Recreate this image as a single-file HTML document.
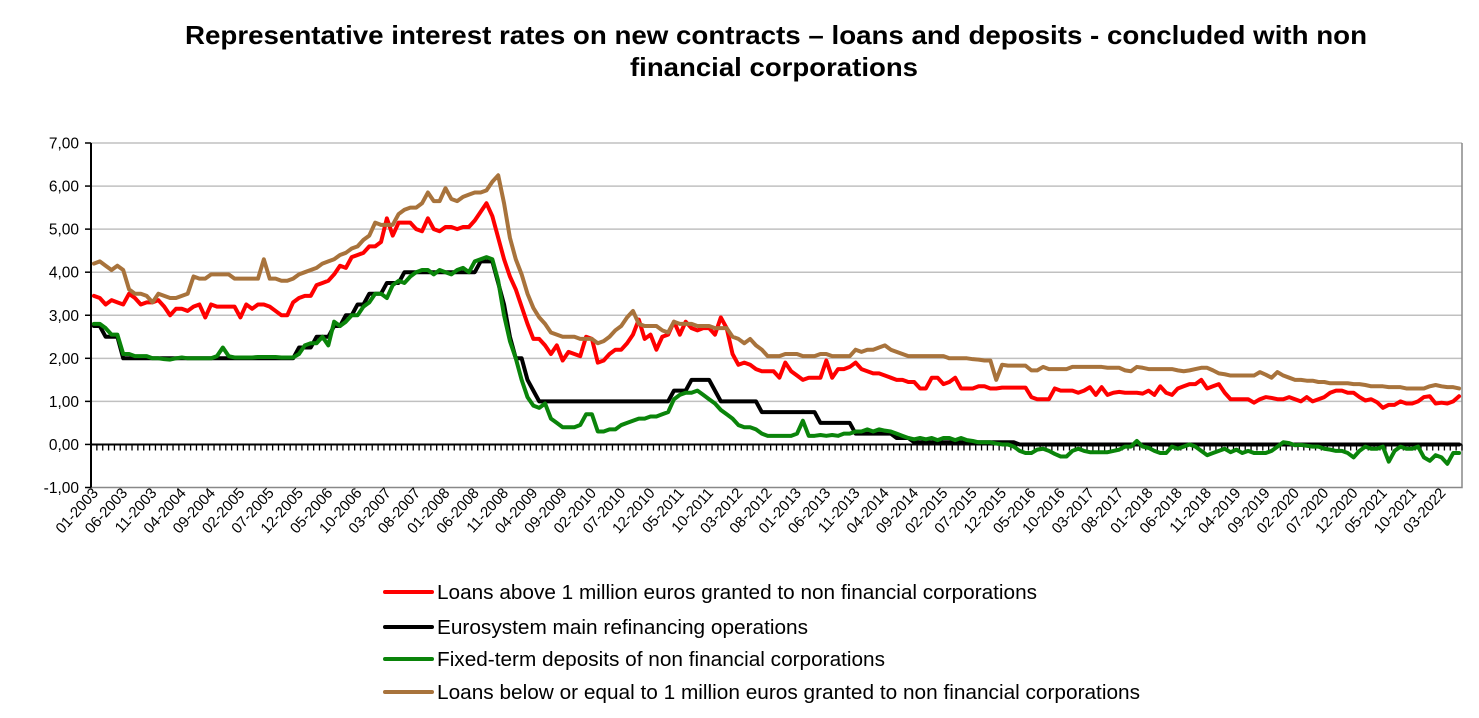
<!DOCTYPE html>
<html><head><meta charset="utf-8">
<style>
html,body{margin:0;padding:0;background:#fff;}
svg{display:block;font-family:"Liberation Sans",Arial,sans-serif;}
</style></head>
<body>
<svg id="chart" width="1479" height="718" viewBox="0 0 1479 718" xmlns="http://www.w3.org/2000/svg">
<rect x="0" y="0" width="1479" height="718" fill="#fff"/>
<text x="185" y="44" font-size="26" font-weight="bold" fill="#000" textLength="1182" lengthAdjust="spacingAndGlyphs">Representative interest rates on new contracts – loans and deposits - concluded with non</text>
<text x="630" y="76" font-size="26" font-weight="bold" fill="#000" textLength="288" lengthAdjust="spacingAndGlyphs">financial corporations</text>
<g id="grid"></g>
<g id="yaxis"></g>
<g id="xaxis"></g>
<g id="series"></g>
<g id="legend"></g>
</svg>
<script>
const yTicks = [-1,0,1,2,3,4,5,6,7];
const startYear = 2003;
const nMonths = 234;
const seriesNames = [
 "Loans above 1 million euros granted to non financial corporations",
 "Eurosystem main refinancing operations",
 "Fixed-term deposits of non financial corporations",
 "Loans below or equal to 1 million euros granted to non financial corporations"
];
const redValues = [
3.45,3.4,3.25,3.35,3.3,3.25,3.5,3.4,3.25,3.3,3.3,3.35,
3.2,3.0,3.15,3.15,3.1,3.2,3.25,2.95,3.25,3.2,3.2,3.2,
3.2,2.95,3.25,3.15,3.25,3.25,3.2,3.1,3.0,3.0,3.3,3.4,
3.45,3.45,3.7,3.75,3.8,3.95,4.15,4.1,4.35,4.4,4.45,4.6,
4.6,4.7,5.25,4.85,5.15,5.15,5.15,5.0,4.95,5.25,5.0,4.95,
5.05,5.05,5.0,5.05,5.05,5.2,5.4,5.6,5.3,4.8,4.3,3.9,
3.6,3.2,2.8,2.45,2.45,2.3,2.1,2.3,1.95,2.15,2.1,2.05,
2.5,2.45,1.9,1.95,2.1,2.2,2.2,2.35,2.55,2.9,2.45,2.55,
2.2,2.5,2.55,2.85,2.55,2.85,2.7,2.65,2.7,2.7,2.55,2.95,
2.7,2.1,1.85,1.9,1.85,1.75,1.7,1.7,1.7,1.55,1.9,1.7,
1.6,1.5,1.55,1.55,1.55,1.95,1.55,1.75,1.75,1.8,1.9,1.75,
1.7,1.65,1.65,1.6,1.55,1.5,1.5,1.45,1.45,1.3,1.3,1.55,
1.55,1.4,1.45,1.55,1.3,1.3,1.3,1.35,1.35,1.3,1.3,1.32,
1.32,1.32,1.32,1.32,1.1,1.05,1.05,1.05,1.3,1.25,1.25,1.25,
1.2,1.25,1.33,1.15,1.33,1.15,1.2,1.22,1.2,1.2,1.2,1.18,
1.25,1.15,1.35,1.2,1.15,1.3,1.35,1.4,1.4,1.5,1.3,1.35,
1.4,1.2,1.05,1.05,1.05,1.05,0.97,1.05,1.1,1.08,1.05,1.05,
1.1,1.05,1.0,1.1,1.0,1.05,1.1,1.2,1.25,1.25,1.2,1.2,
1.1,1.02,1.05,0.98,0.85,0.92,0.92,1.0,0.95,0.95,1.0,1.1,
1.12,0.95,0.97,0.95,1.0,1.12];
const blackValues = [
2.75,2.75,2.5,2.5,2.5,2,2,2,2,2,2,2,
2,2,2,2,2,2,2,2,2,2,2,2,
2,2,2,2,2,2,2,2,2,2,2,2.25,
2.25,2.25,2.5,2.5,2.5,2.75,2.75,3,3,3.25,3.25,3.5,
3.5,3.5,3.75,3.75,3.75,4,4,4,4,4,4,4,
4,4,4,4,4,4,4.25,4.25,4.25,3.75,3.25,2.5,
2,2,1.5,1.25,1,1,1,1,1,1,1,1,
1,1,1,1,1,1,1,1,1,1,1,1,
1,1,1,1.25,1.25,1.25,1.5,1.5,1.5,1.5,1.25,1,
1,1,1,1,1,1,0.75,0.75,0.75,0.75,0.75,0.75,
0.75,0.75,0.75,0.75,0.5,0.5,0.5,0.5,0.5,0.5,0.25,0.25,
0.25,0.25,0.25,0.25,0.25,0.15,0.15,0.15,0.05,0.05,0.05,0.05,
0.05,0.05,0.05,0.05,0.05,0.05,0.05,0.05,0.05,0.05,0.05,0.05,
0.05,0.05,0,0,0,0,0,0,0,0,0,0,
0,0,0,0,0,0,0,0,0,0,0,0,
0,0,0,0,0,0,0,0,0,0,0,0,
0,0,0,0,0,0,0,0,0,0,0,0,
0,0,0,0,0,0,0,0,0,0,0,0,
0,0,0,0,0,0,0,0,0,0,0,0,
0,0,0,0,0,0];
const greenValues = [
2.8,2.8,2.7,2.55,2.55,2.1,2.1,2.05,2.05,2.05,2.0,2.0,
1.98,1.97,2.0,2.02,2.0,2.0,2.0,2.0,2.0,2.05,2.25,2.05,
2.02,2.02,2.02,2.02,2.03,2.03,2.03,2.03,2.02,2.02,2.02,2.1,
2.3,2.35,2.35,2.5,2.3,2.85,2.75,2.85,3.0,3.0,3.2,3.3,
3.5,3.5,3.4,3.7,3.8,3.75,3.9,4.0,4.05,4.05,3.95,4.05,
4.0,3.95,4.05,4.1,4.0,4.25,4.3,4.35,4.3,3.8,3.0,2.4,
2.0,1.5,1.1,0.9,0.85,0.95,0.6,0.5,0.4,0.4,0.4,0.45,
0.7,0.7,0.3,0.3,0.35,0.35,0.45,0.5,0.55,0.6,0.6,0.65,
0.65,0.7,0.75,1.05,1.15,1.2,1.2,1.25,1.15,1.05,0.95,0.8,
0.7,0.6,0.45,0.4,0.4,0.35,0.25,0.2,0.2,0.2,0.2,0.2,
0.25,0.55,0.2,0.2,0.22,0.2,0.22,0.2,0.25,0.25,0.3,0.3,
0.35,0.3,0.35,0.32,0.3,0.25,0.2,0.15,0.12,0.15,0.12,0.15,
0.1,0.15,0.15,0.1,0.15,0.1,0.08,0.05,0.05,0.05,0.02,0.0,
0.0,-0.05,-0.15,-0.2,-0.2,-0.12,-0.1,-0.15,-0.22,-0.28,-0.28,-0.15,
-0.1,-0.15,-0.18,-0.18,-0.18,-0.18,-0.15,-0.12,-0.05,-0.05,0.08,-0.05,
-0.08,-0.15,-0.2,-0.2,-0.05,-0.1,-0.05,0.0,-0.05,-0.15,-0.25,-0.2,
-0.15,-0.1,-0.18,-0.12,-0.2,-0.15,-0.2,-0.2,-0.2,-0.15,-0.05,0.05,
0.03,-0.02,-0.01,-0.03,-0.05,-0.05,-0.1,-0.12,-0.15,-0.15,-0.2,-0.3,
-0.15,-0.05,-0.1,-0.1,-0.05,-0.4,-0.15,-0.05,-0.1,-0.1,-0.05,-0.3,
-0.38,-0.25,-0.3,-0.45,-0.2,-0.2];
const brownValues = [
4.2,4.25,4.15,4.05,4.15,4.05,3.6,3.5,3.5,3.45,3.3,3.5,
3.45,3.4,3.4,3.45,3.5,3.9,3.85,3.85,3.95,3.95,3.95,3.95,
3.85,3.85,3.85,3.85,3.85,4.3,3.85,3.85,3.8,3.8,3.85,3.95,
4.0,4.05,4.1,4.2,4.25,4.3,4.4,4.45,4.55,4.6,4.75,4.85,
5.15,5.1,5.1,5.1,5.35,5.45,5.5,5.5,5.6,5.85,5.65,5.65,
5.95,5.7,5.65,5.75,5.8,5.85,5.85,5.9,6.1,6.25,5.6,4.8,
4.3,3.95,3.5,3.17,2.95,2.8,2.6,2.55,2.5,2.5,2.5,2.45,
2.45,2.45,2.35,2.4,2.5,2.65,2.75,2.95,3.1,2.8,2.75,2.75,
2.75,2.65,2.6,2.85,2.8,2.8,2.8,2.75,2.75,2.75,2.7,2.7,
2.7,2.5,2.45,2.35,2.45,2.3,2.2,2.05,2.05,2.05,2.1,2.1,
2.1,2.05,2.05,2.05,2.1,2.1,2.05,2.05,2.05,2.05,2.2,2.15,
2.2,2.2,2.25,2.3,2.2,2.15,2.1,2.05,2.05,2.05,2.05,2.05,
2.05,2.05,2.0,2.0,2.0,2.0,1.98,1.97,1.95,1.95,1.5,1.85,
1.83,1.83,1.83,1.83,1.72,1.72,1.8,1.75,1.75,1.75,1.75,1.8,
1.8,1.8,1.8,1.8,1.8,1.78,1.78,1.78,1.72,1.7,1.8,1.78,
1.75,1.75,1.75,1.75,1.75,1.72,1.7,1.72,1.75,1.78,1.78,1.72,
1.65,1.63,1.6,1.6,1.6,1.6,1.6,1.68,1.62,1.55,1.68,1.6,
1.55,1.5,1.5,1.48,1.48,1.45,1.45,1.42,1.42,1.42,1.42,1.4,
1.4,1.38,1.35,1.35,1.35,1.33,1.33,1.33,1.3,1.3,1.3,1.3,
1.35,1.38,1.35,1.33,1.33,1.3];

const NS = "http://www.w3.org/2000/svg";
const L = 91, R = 1462, T = 143, B = 487.5;
const yMin = -1, yMax = 7;
const step = (R - L) / nMonths;
function xScale(i){ return L + step * (i + 0.5); }
function yScale(v){ return B - (v - yMin) / (yMax - yMin) * (B - T); }
function mk(tag, attrs, parent){
  const e = document.createElementNS(NS, tag);
  for (const k in attrs) e.setAttribute(k, attrs[k]);
  parent.appendChild(e);
  return e;
}
function fmt(v){ return v.toFixed(2).replace('.', ','); }
function catLabel(i){ const y = startYear + Math.floor(i/12); const m = i%12 + 1; return (m<10?'0':'')+m+'-'+y; }

const grid = document.getElementById('grid');
const yaxis = document.getElementById('yaxis');
const xaxis = document.getElementById('xaxis');
yTicks.forEach(t => {
  const y = yScale(t);
  if (t !== yMin) {
    const g = mk('line', {x1:L, x2:R, y1:y, y2:y, stroke:'#c0c0c0', 'stroke-width':1.5}, grid);
    
    
  }
  const tk = mk('line', {x1:L-6, x2:L, y1:y, y2:y, stroke:'#000', 'stroke-width':1.5}, yaxis);
  
  
  const lb = mk('text', {x:L-12, y:y+5.5, 'text-anchor':'end', 'font-size':15.5, fill:'#000'}, yaxis);
  lb.textContent = fmt(t);
  
  
});
const br = mk('path', {d:`M${L},${B} H${R} V${T}`, fill:'none', stroke:'#888', 'stroke-width':1.5}, grid);


const ya = mk('line', {x1:L, x2:L, y1:T, y2:B, stroke:'#000', 'stroke-width':2}, yaxis);


const y0 = yScale(0);
const xa = mk('line', {x1:L, x2:R, y1:y0, y2:y0, stroke:'#000', 'stroke-width':2}, xaxis);


let tickPath = '';
for (let i = 0; i <= nMonths; i++) { const x = L + step*i; tickPath += `M${x.toFixed(2)},${y0} v6 `; }
const tp = mk('path', {d:tickPath, stroke:'#000', 'stroke-width':1.3, fill:'none'}, xaxis);


for (let i = 0; i < nMonths; i += 5) {
  const x = xScale(i);
  const lb = mk('text', {x:x+5, y:B+6, 'text-anchor':'end', 'font-size':15, fill:'#000', transform:`rotate(-48 ${x+5} ${B+6})`}, xaxis);
  lb.textContent = catLabel(i);
  
  
}

const series = document.getElementById('series');
const colors = ['#ff0000', '#000000', '#0a840a', '#a8733c'];
const all = [redValues, blackValues, greenValues, brownValues];
const sNames = ['series-loans-above-1m', 'series-eurosystem-mro', 'series-fixed-term-deposits', 'series-loans-below-1m'];
all.forEach((vals, s) => {
  const d = vals.map((v, i) => (i ? 'L' : 'M') + xScale(i).toFixed(2) + ',' + yScale(v).toFixed(2)).join(' ');
  const p = mk('path', {d:d, fill:'none', stroke:colors[s], 'stroke-width':4, 'stroke-linejoin':'round', 'stroke-linecap':'round'}, series);
  
  
});

const legend = document.getElementById('legend');
const legY = [592, 627, 659, 692];
const legW = [600, 371, 448, 703];
seriesNames.forEach((nm, s) => {
  const ln = mk('line', {x1:385, x2:432, y1:legY[s], y2:legY[s], stroke:colors[s], 'stroke-width':4, 'stroke-linecap':'round'}, legend);
  
  
  const tx = mk('text', {x:437, y:legY[s]+7, 'font-size':20, fill:'#000', textLength:legW[s], lengthAdjust:'spacingAndGlyphs'}, legend);
  tx.textContent = nm;
  
  
});
</script>
</body></html>
